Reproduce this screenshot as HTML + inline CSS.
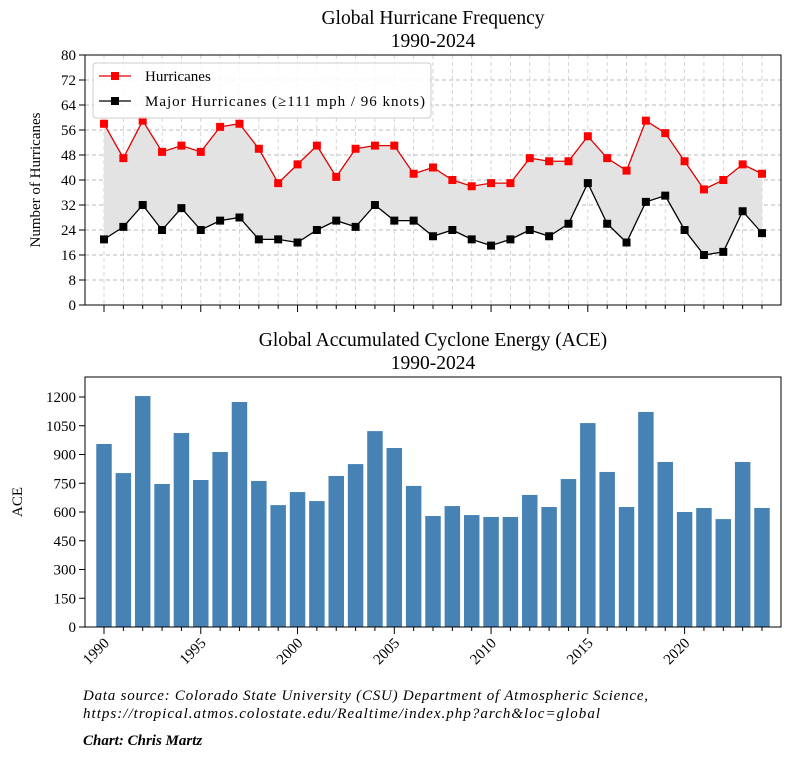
<!DOCTYPE html>
<html><head><meta charset="utf-8"><style>
body{margin:0;background:#fff}
svg{display:block;font-family:"Liberation Serif","DejaVu Serif",serif}
</style></head><body>
<svg id="c" width="790" height="757"></svg>
<script>
const years=[];for(let y=1990;y<=2024;y++)years.push(y);
const hurricanes=[58,47,59,49,51,49,57,58,50,39,45,51,41,50,51,51,42,44,40,38,39,39,47,46,46,54,47,43,59,55,46,37,40,45,42];
const majors=[21,25,32,24,31,24,27,28,21,21,20,24,27,25,32,27,27,22,24,21,19,21,24,22,26,39,26,20,33,35,24,16,17,30,23];
const ace=[955,803,1205,746,1012,767,913,1174,762,636,704,657,788,850,1022,934,736,579,631,584,574,574,689,626,772,1064,809,626,1122,861,600,621,563,861,621];
const topTicks=[0,8,16,24,32,40,48,56,64,72,80];
const aceTicks=[0,150,300,450,600,750,900,1050,1200];
const xLabels=[1990,1995,2000,2005,2010,2015,2020];

const svg=document.getElementById('c');const NS='http://www.w3.org/2000/svg';
function el(t,a,txt){const e=document.createElementNS(NS,t);for(const k in a)e.setAttribute(k,a[k]);if(txt!==undefined)e.textContent=txt;svg.appendChild(e);return e;}
const L=85,R=781;
const X=y=>104+(y-1990)*(762-104)/34;
const T0=305,T1=55;const YT=v=>T0-(v/80)*(T0-T1);
const B0=627,B1=377;const YB=v=>B0-v*(627-397)/1200;

let e;
e=el('text',{x:433,y:24,'text-anchor':'middle','font-size':19.5},'Global Hurricane Frequency');
e=el('text',{x:433,y:47,'text-anchor':'middle','font-size':19.5},'1990-2024');
years.forEach(y=>{e=el('line',{x1:X(y),x2:X(y),y1:T1,y2:T0,stroke:'#ccc','stroke-dasharray':'4,3','stroke-width':0.8});});
topTicks.forEach(v=>{e=el('line',{x1:L,x2:R,y1:YT(v),y2:YT(v),stroke:'#bbb','stroke-dasharray':'4,3','stroke-width':0.9});
 e=el('line',{x1:L-6,x2:L,y1:YT(v),y2:YT(v),stroke:'#000'});
 e=el('text',{x:L-9,y:YT(v)+5,'text-anchor':'end','font-size':15},v);});
let pts=years.map((y,i)=>X(y)+','+YT(hurricanes[i])).join(' ')+' '+years.slice().reverse().map((y,j)=>X(y)+','+YT(majors[34-j])).join(' ');
e=el('polygon',{points:pts,fill:'#e3e3e3',stroke:'none'});
[[hurricanes,'#e00000','hurricanes-line'],[majors,'#000','major-hurricanes-line']].forEach(([d,c,n])=>{
 e=el('polyline',{points:years.map((y,i)=>X(y)+','+YT(d[i])).join(' '),fill:'none',stroke:c,'stroke-width':1.3});
 years.forEach((y,i)=>{e=el('rect',{x:X(y)-4,y:YT(d[i])-4,width:8,height:8,fill:c=='#000'?'#000':'#f00'});});
});
e=el('rect',{x:L,y:T1,width:R-L,height:T0-T1,fill:'none',stroke:'#000','stroke-width':1});
years.forEach(y=>{const maj=(y%5==0);el('line',{x1:X(y),x2:X(y),y1:T0,y2:T0+(maj?7:4),stroke:'#000'});});
e=el('text',{x:0,y:0,'font-size':15,'text-anchor':'middle',transform:'translate(40,180) rotate(-90)'},'Number of Hurricanes');
e=el('rect',{x:93,y:63,width:338,height:55,rx:3,fill:'#fff','fill-opacity':0.85,stroke:'#ccc'});
el('line',{x1:99,x2:131,y1:76,y2:76,stroke:'#e00000','stroke-width':1.3});el('rect',{x:111,y:72,width:8,height:8,fill:'#f00'});
e=el('text',{x:145,y:81,'font-size':15},'Hurricanes');
el('line',{x1:99,x2:131,y1:101,y2:101,stroke:'#000','stroke-width':1.3});el('rect',{x:111,y:97,width:8,height:8,fill:'#000'});
e=el('text',{x:145,y:106,'font-size':15,textLength:280},'Major Hurricanes (≥111 mph / 96 knots)');

e=el('text',{x:433,y:346,'text-anchor':'middle','font-size':19.5},'Global Accumulated Cyclone Energy (ACE)');
e=el('text',{x:433,y:369,'text-anchor':'middle','font-size':19.5},'1990-2024');
const bw=(762-104)/34*0.8;
years.forEach((y,i)=>{e=el('rect',{x:X(y)-bw/2,y:YB(ace[i]),width:bw,height:B0-YB(ace[i]),fill:'#4682b4'});});
el('rect',{x:L,y:B1,width:R-L,height:B0-B1,fill:'none',stroke:'#000'});
aceTicks.forEach(v=>{el('line',{x1:L-6,x2:L,y1:YB(v),y2:YB(v),stroke:'#000'});
 e=el('text',{x:L-9,y:YB(v)+5,'text-anchor':'end','font-size':15},v);});
years.forEach(y=>{const maj=(y%5==0);el('line',{x1:X(y),x2:X(y),y1:B0,y2:B0+(maj?7:4),stroke:'#000'});});
xLabels.forEach(y=>{e=el('text',{x:0,y:0,'font-size':15,'text-anchor':'end',transform:`translate(${X(y)+6},${B0+17}) rotate(-45)`},y);});
e=el('text',{x:0,y:0,'font-size':15,'text-anchor':'middle',transform:'translate(22,502) rotate(-90)'},'ACE');
e=el('text',{x:83,y:700,'font-size':15,'font-style':'italic',textLength:565},'Data source: Colorado State University (CSU) Department of Atmospheric Science,');
e=el('text',{x:83,y:718,'font-size':15,'font-style':'italic',textLength:517},'https://tropical.atmos.colostate.edu/Realtime/index.php?arch&loc=global');
e=el('text',{x:83,y:745,'font-size':15,'font-style':'italic','font-weight':'bold'},'Chart: Chris Martz');
</script>
</body></html>
